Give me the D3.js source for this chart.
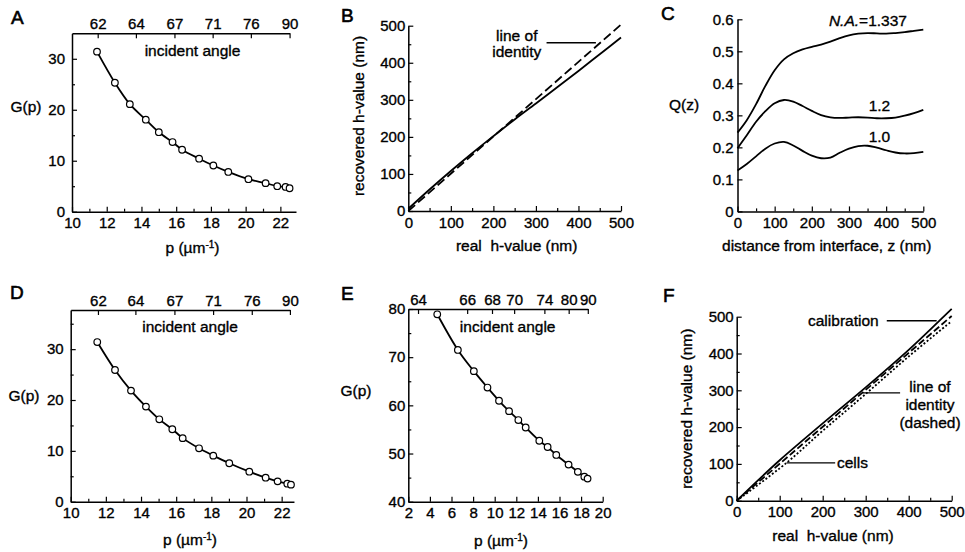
<!doctype html>
<html>
<head>
  <style>
      body { margin:0; background:#fff; }
      svg { display:block; }
      .domain { stroke:#000; stroke-width:1.5px; }
      .tick line { stroke:#000; stroke-width:1.2px; }
      text { font-family:"Liberation Sans", Arial, Helvetica, sans-serif; fill:#000; stroke:#000; stroke-width:0.35px; }
      .tick text { fill:#000; }
      .curve { fill:none; stroke:#000; stroke-width:1.8px; }
      .pt { fill:#fff; stroke:#000; stroke-width:1.2px; }
      .letter { font-size:19px; stroke-width:0.6px; }
      .lab { font-size:15.5px; }
  </style>
  <script src="https://cdn.jsdelivr.net/npm/d3@7"></script>
</head>
<body>
  <script>

      // Panel A: G(p) against p, with incident angle on top
      var pA = [11.44, 12.47, 13.33, 14.25, 15.0, 15.79, 16.34, 17.32, 18.14, 19.0, 20.16, 21.15, 21.82, 22.3, 22.53];
      var gA = [31.4, 25.3, 21.1, 18.05, 15.6, 13.66, 12.15, 10.4, 9.06, 7.8, 6.38, 5.6, 5.0, 4.86, 4.6];
      var angleLabelsA = ["62", "64", "67", "71", "76", "90"];
      var anglePosA = [11.48, 13.68, 15.9, 18.1, 20.3, 22.53];

      // Panel D
      var pD = [11.51, 12.52, 13.43, 14.28, 15.04, 15.78, 16.37, 17.3, 18.11, 19.02, 20.16, 21.09, 21.77, 22.32, 22.53];
      var gD = [31.4, 25.9, 21.85, 18.7, 16.2, 14.25, 12.5, 10.5, 9.06, 7.56, 5.9, 4.72, 4.0, 3.54, 3.35];
      var angleLabelsD = ["62", "64", "67", "71", "76", "90"];
      var anglePosD = [11.55, 13.68, 15.9, 18.1, 20.3, 22.47];

      // Panel E
      var pE = [4.68, 6.59, 8.07, 9.33, 10.4, 11.33, 12.19, 12.87, 14.13, 14.9, 15.7, 16.84, 17.7, 18.3, 18.6];
      var gE = [78.9, 71.5, 67.1, 63.7, 60.95, 58.8, 56.95, 55.4, 52.65, 51.35, 49.7, 47.7, 46.2, 45.2, 44.8];
      var angleLabelsE = ["64", "66", "68", "70", "74", "80", "90"];
      var anglePosE = [2.9, 7.45, 9.75, 11.8, 14.6, 16.85, 18.62];

      // Panel B: recovered vs real h-value
      var bReal = [0, 50, 100, 150, 200, 250, 300, 350, 400, 450, 500];
      var bRecovered = [6, 58, 108, 156, 202, 247, 290, 334, 378, 423, 468];
      var bIdentityX = [0, 500];
      var bIdentityY = [0, 503];

      // Panel C: Q(z) for three numerical apertures
      var cZ = [0, 25, 50, 75, 100, 125, 150, 175, 200, 225, 250, 275, 300, 325, 350, 375, 400, 425, 450, 475, 500];
      var cNA1337 = [0.246, 0.285, 0.335, 0.392, 0.441, 0.475, 0.494, 0.506, 0.514, 0.521, 0.530, 0.541, 0.550, 0.555, 0.557, 0.556, 0.555, 0.557, 0.560, 0.564, 0.568];
      var cNA12 = [0.197, 0.238, 0.280, 0.313, 0.338, 0.348, 0.343, 0.329, 0.314, 0.301, 0.294, 0.292, 0.293, 0.294, 0.293, 0.291, 0.291, 0.293, 0.299, 0.307, 0.317];
      var cNA10 = [0.128, 0.148, 0.172, 0.196, 0.212, 0.217, 0.206, 0.189, 0.174, 0.166, 0.168, 0.183, 0.196, 0.204, 0.205, 0.199, 0.191, 0.184, 0.181, 0.182, 0.186];

      // Panel F: calibration, cells, identity
      var fCalX = [0, 50, 100, 200, 300, 400, 450, 500];
      var fCalY = [0, 56, 110, 210, 308, 410, 465, 521];
      var fCellX = [0, 116, 200, 300, 400, 500];
      var fCellY = [0, 103, 190, 290, 392, 488];
      var fIdX = [0, 500];
      var fIdY = [0, 502];

      var svg = d3.select("body").append("svg")
         .attr("width", 965)
         .attr("height", 552);

      // draws an axis with inward ticks; minor ticks get no labels
      function axis(gen, scale, tx, ty, major, minor, pad, fmt) {
         var a = gen(scale).tickValues(major).tickSize(-5).tickSizeOuter(0).tickPadding(pad);
         if (fmt) a.tickFormat(fmt);
         svg.append("g").attr("transform", "translate(" + tx + "," + ty + ")").call(a)
            .attr("font-size", 15).attr("font-family", null);
         if (minor) {
            var m = svg.append("g").attr("transform", "translate(" + tx + "," + ty + ")")
               .call(gen(scale).tickValues(minor).tickSize(-3).tickSizeOuter(0).tickFormat(""));
            m.select(".domain").remove();
         }
      }

      function label(txt, x, y, cls, anchor) {
         return svg.append("text")
            .attr("class", cls || "lab")
            .attr("x", x).attr("y", y)
            .attr("text-anchor", anchor || "middle")
            .text(txt);
      }

      function pTitle(x, y) {
         var t = svg.append("text").attr("class", "lab").attr("x", x).attr("y", y).attr("text-anchor", "middle");
         t.append("tspan").text("p (\u00b5m");
         t.append("tspan").attr("font-size", 10).attr("dy", -5).text("-1");
         t.append("tspan").attr("dy", 5).text(")");
      }

      function curve(xs, ys, x, y, dash, width, kind) {
         var line = d3.line()
            .x(function(d, i) { return x(xs[i]); })
            .y(function(d, i) { return y(ys[i]); })
            .curve(kind || d3.curveCatmullRom.alpha(0.5));
         var p = svg.append("path").datum(xs).attr("class", "curve").attr("d", line);
         if (dash) p.attr("stroke-dasharray", dash);
         if (width) p.attr("stroke-width", width);
         return p;
      }

      function points(xs, ys, x, y) {
         svg.append("g").selectAll("circle")
            .data(xs)
            .enter()
            .append("circle")
            .attr("class", "pt")
            .attr("cx", function(d) { return x(d); })
            .attr("cy", function(d, i) { return y(ys[i]); })
            .attr("r", 3.3);
      }

      var pMajor = [10, 12, 14, 16, 18, 20, 22];
      var pMinor = [11, 13, 15, 17, 19, 21];

      // ---------- A ----------
      var xA = d3.scaleLinear().domain([10, 22.9]).range([72, 296]);
      var yA = d3.scaleLinear().domain([0, 35]).range([211.7, 33.3]);
      var xAtop = d3.scaleLinear().domain([10, 22.53]).range([xA(10), xA(22.53)]);
      axis(d3.axisBottom, xA, 0, yA(0), pMajor, pMinor, 6);
      axis(d3.axisLeft, yA, xA(10), 0, [0, 10, 20, 30], [5, 15, 25], 7);
      axis(d3.axisTop, xAtop, 0, yA(35), anglePosA, null, 4, function(d, i) { return angleLabelsA[i]; });
      curve(pA, gA, xA, yA);
      points(pA, gA, xA, yA);
      label("incident angle", xA(16.94), yA(30.45));
      label("G(p)", 26, 112);
      pTitle(192.5, 253);
      label("A", 11, 24, "letter", "start");

      // ---------- D ----------
      var xD = d3.scaleLinear().domain([10, 22.7]).range([70.7, 70.7 + 12.7 * 17.58]);
      var yD = d3.scaleLinear().domain([0, 37.7]).range([501.7, 310]);
      var xDtop = d3.scaleLinear().domain([10, 22.47]).range([xD(10), xD(22.47)]);
      axis(d3.axisBottom, xD, 0, yD(0), pMajor, pMinor, 6);
      axis(d3.axisLeft, yD, xD(10), 0, [0, 10, 20, 30], [5, 15, 25, 35], 7);
      axis(d3.axisTop, xDtop, 0, yD(37.7), anglePosD, null, 4, function(d, i) { return angleLabelsD[i]; });
      curve(pD, gD, xD, yD);
      points(pD, gD, xD, yD);
      label("incident angle", xD(16.79), yD(33.4));
      label("G(p)", 24, 401);
      pTitle(190, 545);
      label("D", 10, 299, "letter", "start");

      // ---------- E ----------
      var xE = d3.scaleLinear().domain([2, 20]).range([408.3, 602.7]);
      var yE = d3.scaleLinear().domain([40, 80]).range([501.7, 309]);
      var xEtop = d3.scaleLinear().domain([2, 18.62]).range([xE(2), xE(18.62)]);
      axis(d3.axisBottom, xE, 0, yE(40), [2, 4, 6, 8, 10, 12, 14, 16, 18, 20], null, 6);
      axis(d3.axisLeft, yE, xE(2), 0, [40, 50, 60, 70, 80], [45, 55, 65, 75], 3);
      axis(d3.axisTop, xEtop, 0, yE(80), anglePosE, null, 4, function(d, i) { return angleLabelsE[i]; });
      curve(pE, gE, xE, yE);
      points(pE, gE, xE, yE);
      label("incident angle", xE(11.2), yE(75.2));
      label("G(p)", 356, 396);
      pTitle(501, 546);
      label("E", 341, 300, "letter", "start");

      // ---------- B ----------
      var xB = d3.scaleLinear().domain([0, 500]).range([408.3, 621]);
      var yB = d3.scaleLinear().domain([0, 500]).range([211, 25.7]);
      var hMajor = [0, 100, 200, 300, 400, 500];
      var hMinor = [50, 150, 250, 350, 450];
      axis(d3.axisBottom, xB, 0, yB(0), hMajor, hMinor, 6);
      axis(d3.axisLeft, yB, xB(0), 0, hMajor, hMinor, 3);
      curve(bIdentityX, bIdentityY, xB, yB, "9,4", 1.6, d3.curveLinear);
      curve(bReal, bRecovered, xB, yB, null, 2);
      svg.append("line")
         .attr("x1", xB(325)).attr("x2", xB(441))
         .attr("y1", yB(454)).attr("y2", yB(454))
         .attr("stroke", "#000").attr("stroke-width", 1.3);
      label("line of", xB(255), yB(460));
      label("identity", xB(255), yB(415.5));
      svg.append("text").attr("class", "lab")
         .attr("transform", "translate(364,116) rotate(-90)")
         .attr("text-anchor", "middle")
         .text("recovered h-value (nm)");
      label("real  h-value (nm)", 516.7, 251).style("white-space", "pre");
      label("B", 341, 22, "letter", "start");

      // ---------- C ----------
      var xC = d3.scaleLinear().domain([0, 500]).range([737.5, 923.3]);
      var yC = d3.scaleLinear().domain([0, 0.6]).range([211.4, 19.3]);
      axis(d3.axisBottom, xC, 0, yC(0), hMajor, hMinor, 6);
      axis(d3.axisLeft, yC, xC(0), 0, [0, 0.1, 0.2, 0.3, 0.4, 0.5, 0.6], null, 4, function(d) { return d === 0 ? "0" : d3.format(".1f")(d); });
      curve(cZ, cNA1337, xC, yC);
      curve(cZ, cNA12, xC, yC);
      curve(cZ, cNA10, xC, yC);
      var na = svg.append("text").attr("class", "lab").attr("x", xC(351)).attr("y", yC(0.578)).attr("text-anchor", "middle");
      na.append("tspan").attr("font-style", "italic").text("N.A.");
      na.append("tspan").text("=1.337");
      label("1.2", xC(382), yC(0.314));
      label("1.0", xC(382), yC(0.2175));
      label("Q(z)", 684, 110);
      label("distance from interface, z (nm)", 826.7, 251);
      label("C", 661, 20, "letter", "start");

      // ---------- F ----------
      var xF = d3.scaleLinear().domain([0, 500]).range([736.7, 951.7]);
      var yF = d3.scaleLinear().domain([0, 500]).range([500.7, 316.7]);
      axis(d3.axisBottom, xF, 0, yF(0), hMajor, hMinor, 6);
      axis(d3.axisLeft, yF, xF(0), 0, hMajor, hMinor, 3);
      curve(fIdX, fIdY, xF, yF, "7,3", 1.5, d3.curveLinear);
      curve(fCellX, fCellY, xF, yF, "2,2", 1.5);
      curve(fCalX, fCalY, xF, yF, null, 1.7);
      function leader(x1, x2, yv) {
         svg.append("line")
            .attr("x1", xF(x1)).attr("x2", xF(x2))
            .attr("y1", yF(yv)).attr("y2", yF(yv))
            .attr("stroke", "#000").attr("stroke-width", 1.3);
      }
      leader(349, 465, 489);
      leader(293, 380, 293);
      leader(116, 229, 103);
      label("calibration", xF(248), yF(475));
      label("line of", xF(449.5), yF(296));
      label("identity", xF(449.5), yF(247));
      label("(dashed)", xF(449.5), yF(198));
      label("cells", xF(233), yF(88), "lab", "start");
      svg.append("text").attr("class", "lab")
         .attr("transform", "translate(692,408.7) rotate(-90)")
         .attr("text-anchor", "middle")
         .text("recovered h-value (nm)");
      label("real  h-value (nm)", 833, 541).style("white-space", "pre");
      label("F", 663, 302, "letter", "start");

  </script>
</body>
</html>
